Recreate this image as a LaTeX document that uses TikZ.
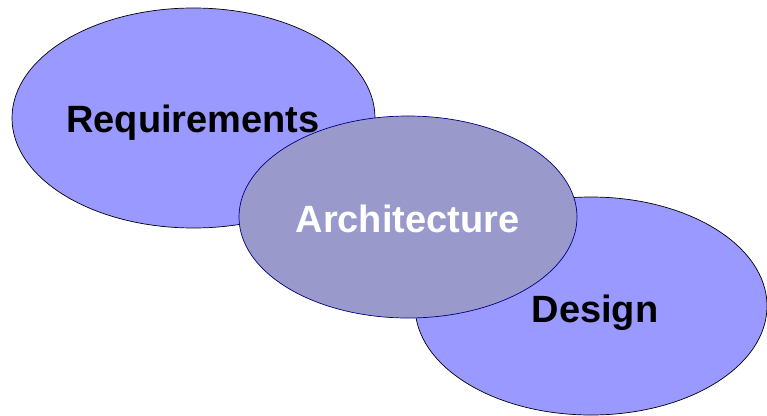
\documentclass[tikz,border=0pt]{standalone}
\usepackage{fontspec}
\setmainfont{Liberation Sans}
\definecolor{lav}{HTML}{9999FF}
\definecolor{grayblue}{HTML}{9999CC}
\definecolor{navyline}{HTML}{000080}
\tikzset{
  blob/.style={ellipse, draw=black, fill=lav, line width=0.7pt, inner sep=0pt},
  midblob/.style={ellipse, draw=navyline, fill=grayblue, line width=0.7pt, inner sep=0pt},
  lbl/.style={font=\fontsize{38}{41}\selectfont\bfseries, anchor=base, inner sep=0pt}
}
\usetikzlibrary{shapes.geometric}
\begin{document}
\begin{tikzpicture}[x=1pt,y=-1pt]
\useasboundingbox (0,0) rectangle (767,415);
\node[blob, minimum width=363pt, minimum height=220pt] (req) at (193.5,118) {};
\node[blob, minimum width=352pt, minimum height=218pt] (des) at (591,306) {};
\node[midblob, minimum width=338pt, minimum height=202pt] (arc) at (408,217) {};
\node[lbl, text=black] (reqt) at (193,132) {Requirements};
\node[lbl, text=white] (arct) at (407.5,232) {Architecture};
\node[lbl, text=black] (dest) at (595,322) {Design};
\end{tikzpicture}
\end{document}
